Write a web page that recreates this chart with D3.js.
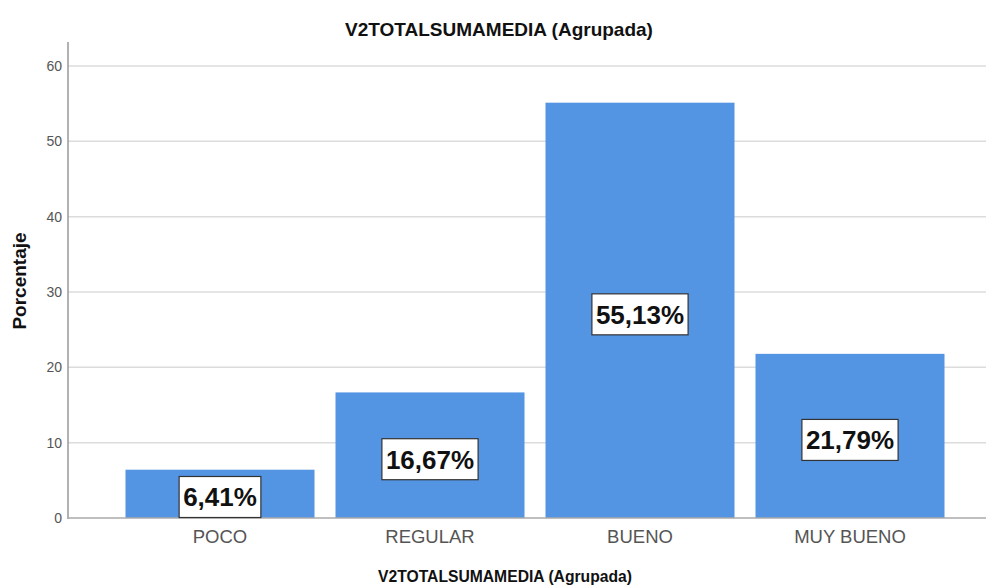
<!DOCTYPE html>
<html lang="es">
<head>
<meta charset="UTF-8">
<title>V2TOTALSUMAMEDIA (Agrupada)</title>
<script src="https://d3js.org/d3.v7.min.js"></script>
<style>
  body { margin: 0; background: #fff; }
  svg { display: block; font-family: "Liberation Sans", Arial, sans-serif; }
</style>
</head>
<body>
<svg id="chart" width="986" height="586"></svg>
<script>
const categories = ["POCO", "REGULAR", "BUENO", "MUY BUENO"];
const values = [6.41, 16.67, 55.13, 21.79];
const yTicks = [0, 10, 20, 30, 40, 50, 60];

const svg = d3.select("#chart");

const x = d3.scaleBand()
    .domain(categories)
    .range([115, 955])
    .paddingInner(0.1)
    .paddingOuter(0.05);

// 0 at 518, 60 at 66
const y = d3.scaleLinear().domain([0, 60]).range([518, 66]);

// gridlines
svg.append("g")
  .selectAll("line")
  .data(yTicks.filter(d => d > 0))
  .join("line")
    .attr("x1", 68).attr("x2", 986)
    .attr("y1", d => y(d)).attr("y2", d => y(d))
    .attr("stroke", "#dcdcdc")
    .attr("stroke-width", 1.5);

// bars
svg.append("g")
  .selectAll("rect")
  .data(values)
  .join("rect")
    .attr("x", (d, i) => x(categories[i]))
    .attr("y", d => y(d))
    .attr("width", x.bandwidth())
    .attr("height", d => y(0) - y(d))
    .attr("fill", "#5394e3");

// y axis
const yAxis = svg.append("g")
    .attr("transform", "translate(68,0)")
    .call(d3.axisLeft(y).tickValues(yTicks).tickSize(0).tickPadding(6));
yAxis.select(".domain").remove();
yAxis.selectAll("text")
    .attr("fill", "#555")
    .attr("font-size", 14)
    .attr("font-family", "Liberation Sans, Arial, sans-serif");

svg.append("line")
    .attr("x1", 68).attr("x2", 68)
    .attr("y1", 42).attr("y2", y(0) + 1)
    .attr("stroke", "#999").attr("stroke-width", 1.5);
svg.append("line")
    .attr("x1", 68).attr("x2", 986)
    .attr("y1", y(0)).attr("y2", y(0))
    .attr("stroke", "#aaa").attr("stroke-width", 1.5);

// x axis labels
const xAxis = svg.append("g")
    .attr("transform", `translate(0,${y(0)})`)
    .call(d3.axisBottom(x).tickSize(0).tickPadding(12));
xAxis.select(".domain").remove();
xAxis.selectAll("text")
    .attr("fill", "#555")
    .attr("font-size", 18.5)
    .attr("font-family", "Liberation Sans, Arial, sans-serif");

// value labels
const fmt = v => v.toFixed(2).replace(".", ",") + "%";
const labels = svg.append("g")
  .selectAll("g")
  .data(values)
  .join("g")
    .attr("transform", (d, i) => {
      const cx = x(categories[i]) + x.bandwidth() / 2;
      const cy = Math.min((y(d) + y(0)) / 2 + 4, y(0) - 21);
      return `translate(${cx},${cy})`;
    });

labels.append("text")
    .attr("text-anchor", "middle")
    .attr("dy", "0.36em")
    .attr("font-size", 26)
    .attr("font-weight", "bold")
    .attr("fill", "#111")
    .text(d => fmt(d));

labels.each(function () {
  const g = d3.select(this);
  const bb = g.select("text").node().getBBox();
  g.insert("rect", "text")
      .attr("x", bb.x - 4)
      .attr("y", -20.5)
      .attr("width", bb.width + 8)
      .attr("height", 41)
      .attr("fill", "#fff")
      .attr("stroke", "#333")
      .attr("stroke-width", 1.2);
});

// titles
svg.append("text")
    .attr("x", 499).attr("y", 36)
    .attr("text-anchor", "middle")
    .attr("font-size", 19).attr("font-weight", "bold")
    .attr("fill", "#111")
    .text("V2TOTALSUMAMEDIA (Agrupada)");

svg.append("text")
    .attr("x", 505).attr("y", 582)
    .attr("text-anchor", "middle")
    .attr("font-size", 17).attr("font-weight", "bold")
    .attr("textLength", 254).attr("lengthAdjust", "spacingAndGlyphs")
    .attr("fill", "#111")
    .text("V2TOTALSUMAMEDIA (Agrupada)");

svg.append("text")
    .attr("transform", "translate(26,281) rotate(-90)")
    .attr("text-anchor", "middle")
    .attr("font-size", 19).attr("font-weight", "bold")
    .attr("fill", "#111")
    .text("Porcentaje");
</script>
</body>
</html>
